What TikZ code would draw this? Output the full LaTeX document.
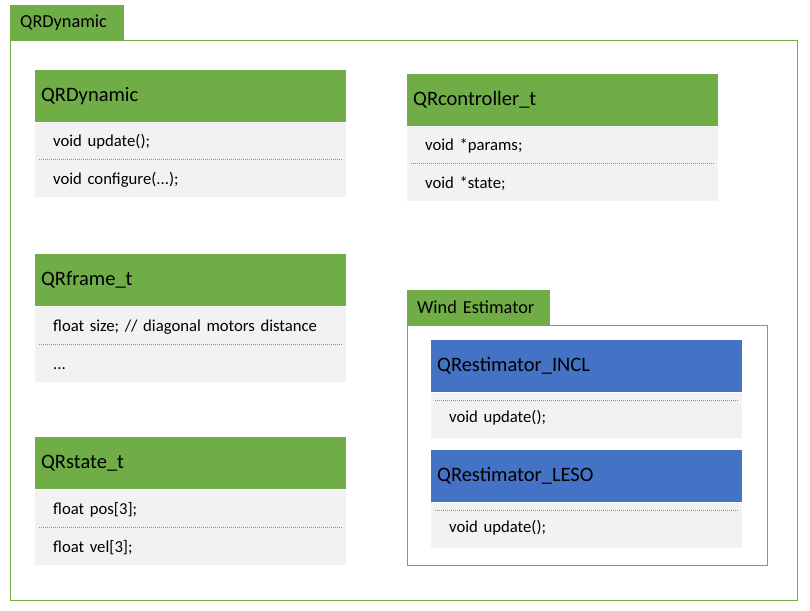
\documentclass[tikz,border=0pt]{standalone}
\usepackage{fontspec}
\setmainfont{Carlito}
\usepackage{tikz}
\usetikzlibrary{positioning}
\definecolor{qGreen}{HTML}{70AD47}
\definecolor{qBlue}{HTML}{4472C4}
\definecolor{qGray}{HTML}{F2F2F2}
\definecolor{qDot}{HTML}{5B9BD5}

\begin{document}
\begin{tikzpicture}[x=1pt, y=-1pt,
  grouptab/.style={fill=qGreen, anchor=north west, minimum height=35pt,
                   text width=#1, inner xsep=10pt, inner ysep=0pt, align=left,
                   font=\fontsize{18.3}{22}\selectfont},
  groupframe/.style={draw=qGreen, line width=1pt, anchor=north west, inner sep=0pt},
  hdr/.style={fill=#1, anchor=north west, minimum height=52pt, text width=299pt,
              inner xsep=6pt, inner ysep=0pt, align=left,
              font=\fontsize{20.5}{24}\selectfont},
  member/.style={fill=qGray, minimum height=#1, text width=275pt, inner xsep=18pt,
                 inner ysep=0pt, align=left, text height=13pt, text depth=2pt,
                 font=\fontsize{16.7}{20}\selectfont},
  sep/.style={draw=#1, line width=1pt, dash pattern=on 1.2pt off 0.8pt},
]
  \useasboundingbox (0,0) rectangle (810,610);

  % outer group
  \node[groupframe, minimum width=787pt, minimum height=560pt] (dynFrame) at (10,40) {};
  \node[grouptab=94pt] (dynTab) at (10,5) {QRDynamic};

  % QRDynamic
  \node[hdr=qGreen] (dynHdr) at (35,70) {QRDynamic};
  \node[member=37pt, below=0pt of dynHdr] (dynUpd) {void update();};
  \node[member=37pt, below=0pt of dynUpd] (dynCfg) {void configure(...);};
  \draw[sep=qGreen] ([xshift=4pt]dynUpd.south west) -- ([xshift=-4pt]dynUpd.south east);

  % QRcontroller_t
  \node[hdr=qGreen] (ctrlHdr) at (407,74) {QRcontroller\_t};
  \node[member=37pt, below=0pt of ctrlHdr] (ctrlPar) {void *params;};
  \node[member=37pt, below=0pt of ctrlPar] (ctrlSt) {void *state;};
  \draw[sep=qGreen] ([xshift=4pt]ctrlPar.south west) -- ([xshift=-4pt]ctrlPar.south east);

  % QRframe_t
  \node[hdr=qGreen] (frmHdr) at (35,254) {QRframe\_t};
  \node[member=38pt, below=0pt of frmHdr] (frmSize) {float size; // diagonal motors distance};
  \node[member=37pt, below=0pt of frmSize] (frmMore) {...};
  \draw[sep=qGreen] ([xshift=4pt]frmSize.south west) -- ([xshift=-4pt]frmSize.south east);

  % QRstate_t
  \node[hdr=qGreen] (stHdr) at (35,437) {QRstate\_t};
  \node[member=38pt, below=0pt of stHdr] (stPos) {float pos[3];};
  \node[member=37pt, below=0pt of stPos] (stVel) {float vel[3];};
  \draw[sep=qGreen] ([xshift=4pt]stPos.south west) -- ([xshift=-4pt]stPos.south east);

  % wind estimator group
  \node[groupframe, minimum width=360pt, minimum height=240pt] (windFrame) at (407,325) {};
  \node[grouptab=123pt] (windTab) at (407,290) {Wind Estimator};

  \node[hdr=qBlue] (inclHdr) at (431,340) {QRestimator\_INCL};
  \node[member=45pt, below=0pt of inclHdr, text height=16pt] (inclUpd) {void update();};
  \draw[sep=qDot] ([shift={(4pt,-8pt)}]inclHdr.south west) -- ([shift={(-4pt,-8pt)}]inclHdr.south east);

  \node[hdr=qBlue] (lesoHdr) at (431,450) {QRestimator\_LESO};
  \node[member=45pt, below=0pt of lesoHdr, text height=16pt] (lesoUpd) {void update();};
  \draw[sep=qDot] ([shift={(4pt,-8pt)}]lesoHdr.south west) -- ([shift={(-4pt,-8pt)}]lesoHdr.south east);
\end{tikzpicture}
\end{document}
